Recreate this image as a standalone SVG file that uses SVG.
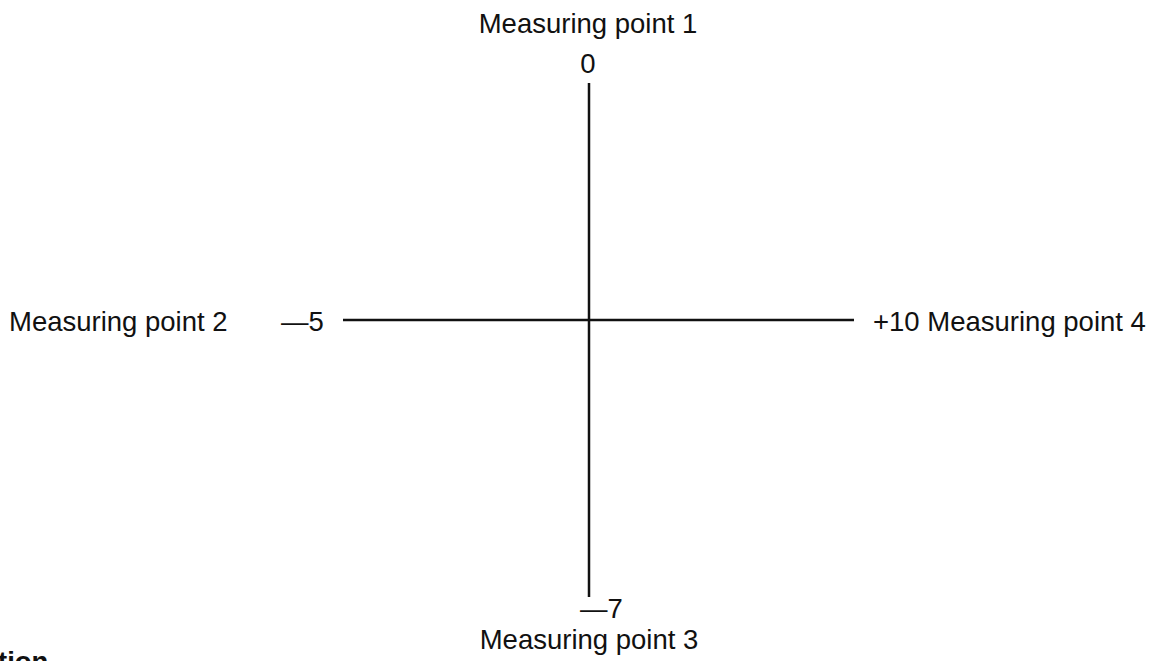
<svg xmlns="http://www.w3.org/2000/svg" width="1163" height="661" viewBox="0 0 1163 661">
<style>
text{font-family:"Liberation Sans",Arial,Helvetica,sans-serif;font-size:27.5px;fill:#111}
.b{font-weight:bold}
.axis{stroke:#111;stroke-width:2.5;fill:none}
</style>
<rect width="1163" height="661" fill="#fff"/>
<g id="connectors">
<line class="axis" x1="589" y1="83" x2="589" y2="597"/>
<line class="axis" x1="343" y1="320" x2="854" y2="320"/>
</g>
<g id="mp1">
<text x="588" y="33" text-anchor="middle">Measuring point 1</text>
<text x="588" y="73" text-anchor="middle">0</text>
</g>
<g id="mp2">
<text x="9" y="331">Measuring point 2</text>
<text x="281" y="331">—5</text>
</g>
<g id="mp4">
<text x="873" y="331">+10 Measuring point 4</text>
</g>
<g id="mp3">
<text x="580" y="618">—7</text>
<text x="589" y="649" text-anchor="middle">Measuring point 3</text>
</g>
<text class="b" x="-2" y="671">tion</text>
</svg>
